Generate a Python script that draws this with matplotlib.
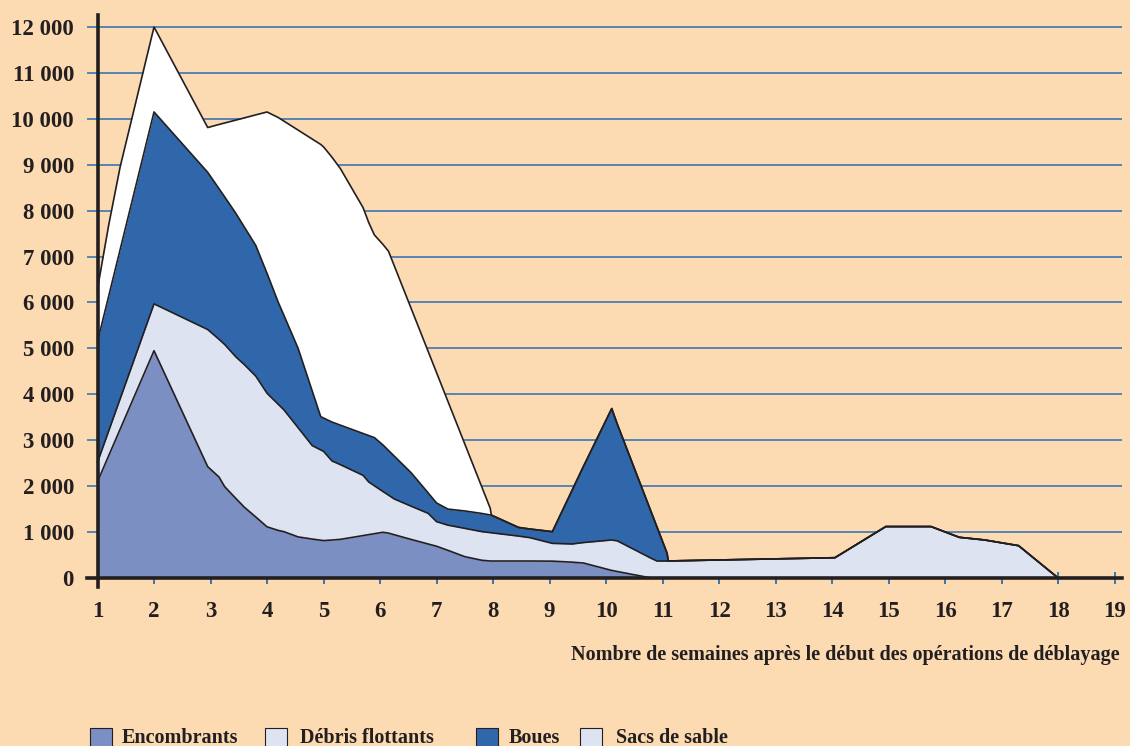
import numpy as np
import matplotlib
matplotlib.use("Agg")
import matplotlib.pyplot as plt
from matplotlib.patches import Rectangle

# ---- data (weeks after start of clean-up, tonnes per series) ----
weeks = [1.0, 1.2, 1.4, 2.0, 2.95, 3.15, 3.25, 3.45, 3.6, 3.8, 4.0, 4.2, 4.3, 4.55,
         4.8, 4.95, 5.0, 5.15, 5.3, 5.7, 5.8, 5.9, 6.05, 6.15, 6.25, 6.55, 6.85, 7.0,
         7.2, 7.5, 7.8, 7.95, 7.97, 8.15, 8.45, 8.65, 9.05, 9.4, 9.6, 10.1, 10.2, 10.8,
         10.9, 11.08, 11.1, 14.05, 14.95, 15.75, 16.25, 16.7, 17.3, 18.0, 19.0]

encombrants = [2100, 2670, 3240, 4950, 2425, 2200, 1990, 1730, 1540, 1330, 1115, 1036,
               1009, 895, 848, 823, 815, 827, 842, 924, 945, 965, 996, 978, 943, 840,
               741, 692, 603, 465, 386, 370, 370, 370, 370, 370, 367, 345, 326, 165,
               141, 0, 0, 0, 0, 0, 0, 0, 0, 0, 0, 0, 0]

debris_flottants = [420, 540, 660, 1020, 2986, 2998, 3096, 3083, 3105, 3067, 2908, 2745,
                    2651, 2377, 2035, 1966, 1943, 1722, 1625, 1311, 1145, 1043, 889, 826,
                    779, 724, 668, 535, 548, 616, 624, 618, 615, 588, 543, 509, 387, 396,
                    446, 663, 667, 428, 370, 370, 371, 442, 1120, 1120, 886, 828, 704, 0, 0]

boues = [2630, 2940, 3250, 4180, 3424, 3281, 3215, 3125, 2995, 2847, 2613, 2219, 2058,
         1730, 1189, 725, 726, 847, 861, 912, 1012, 1049, 1014, 974, 934, 729, 446, 407,
         350, 379, 396, 385, 384, 311, 189, 188, 255, 1173, 1659, 2862, 2538, 1004, 743,
         168, 0, 0, 0, 0, 0, 0, 0, 0, 0]

sacs_de_sable = [1150, 1550, 1800, 1850, 975, 1398, 1608, 2035, 2381, 2842, 3513, 4027,
                 4231, 4752, 5487, 5928, 5905, 5767, 5584, 4918, 4637, 4413, 4368, 4337,
                 4148, 3578, 3084, 2838, 2349, 1458, 579, 145, 0, 0, 0, 0, 0, 0, 0, 0, 0,
                 0, 0, 0, 0, 0, 0, 0, 0, 0, 0, 0, 0]

series_names = ["Encombrants", "Débris flottants", "Boues", "Sacs de sable"]
x_ticks = list(range(1, 20))
y_ticks = list(range(0, 13000, 1000))
x_title = "Nombre de semaines après le début des opérations de déblayage"

# ---- style ----
BG = "#fcdab2"
INK = "#231f20"
GRID = "#2a6db5"
fills = ["#7b8fc3", "#dde3f1", "#3067aa", "#ffffff"]
legend_fills = ["#7b8fc3", "#dde3f1", "#3067aa", "#dde3f1"]
FONT = "Liberation Serif"

W, H = 1130, 746
fig = plt.figure(figsize=(W / 100, H / 100), dpi=100, facecolor=BG)
ax = fig.add_axes([87 / W, 1 - 578 / H, (1122 - 87) / W, (578 - 15) / H])
ax.set_facecolor(BG)
ax.set_xlim(0.814, 19.13)
ax.set_ylim(0, 12261)

x = np.array(weeks)
layers = [np.array(encombrants, float), np.array(debris_flottants, float),
          np.array(boues, float), np.array(sacs_de_sable, float)]

# grid lines
for v in y_ticks[1:]:
    ax.axhline(v, color=GRID, lw=1.1, zorder=1)

base = np.zeros_like(x)
for vals, col in zip(layers, fills):
    top = base + vals
    ax.fill_between(x, base, top, color=col, lw=0, zorder=2)
    base = top
base = np.zeros_like(x)
for vals in layers:
    top = base + vals
    ax.plot(x, top, color=INK, lw=1.2, zorder=3, solid_joinstyle="round")
    base = top

# axes
for s in ["top", "right"]:
    ax.spines[s].set_visible(False)
ax.spines["left"].set_position(("data", 1))
ax.spines["left"].set_linewidth(2.6)
ax.spines["left"].set_color(INK)
ax.spines["left"].set_bounds(-200, 12261)
ax.spines["left"].set_zorder(5)
ax.spines["bottom"].set_linewidth(2.6)
ax.spines["bottom"].set_color(INK)
ax.spines["bottom"].set_zorder(5)

ax.set_xticks(x_ticks)
ax.set_xticklabels([str(t) for t in x_ticks], fontfamily=FONT, fontweight="bold",
                   fontsize=16.5, color=INK)
ax.tick_params(axis="x", direction="inout", length=9, width=1.3, color=GRID, pad=12)
ax.set_yticks(y_ticks)
ax.set_yticklabels([f"{v:,}".replace(",", " ") for v in y_ticks], fontfamily=FONT,
                   fontweight="bold", fontsize=16.5, color=INK)
ax.tick_params(axis="y", length=0, pad=17)

fig.text(1120 / W, 1 - 655 / H, x_title, ha="right", va="center", fontfamily=FONT,
         fontweight="bold", fontsize=14.5, color=INK)

# legend
sw_x = [90, 265, 476, 580]
tx_x = [122, 300, 509, 616]
for name, col, sx, tx in zip(series_names, legend_fills, sw_x, tx_x):
    fig.patches.append(Rectangle((sx / W, 1 - 748 / H), 22 / W, 20 / H,
                                 transform=fig.transFigure, facecolor=col,
                                 edgecolor=INK, lw=0.8))
    fig.text(tx / W, 1 - 738 / H, name, ha="left", va="center", fontfamily=FONT,
             fontweight="bold", fontsize=14.5, color=INK)

fig.savefig("out.png", dpi=100, facecolor=BG)
